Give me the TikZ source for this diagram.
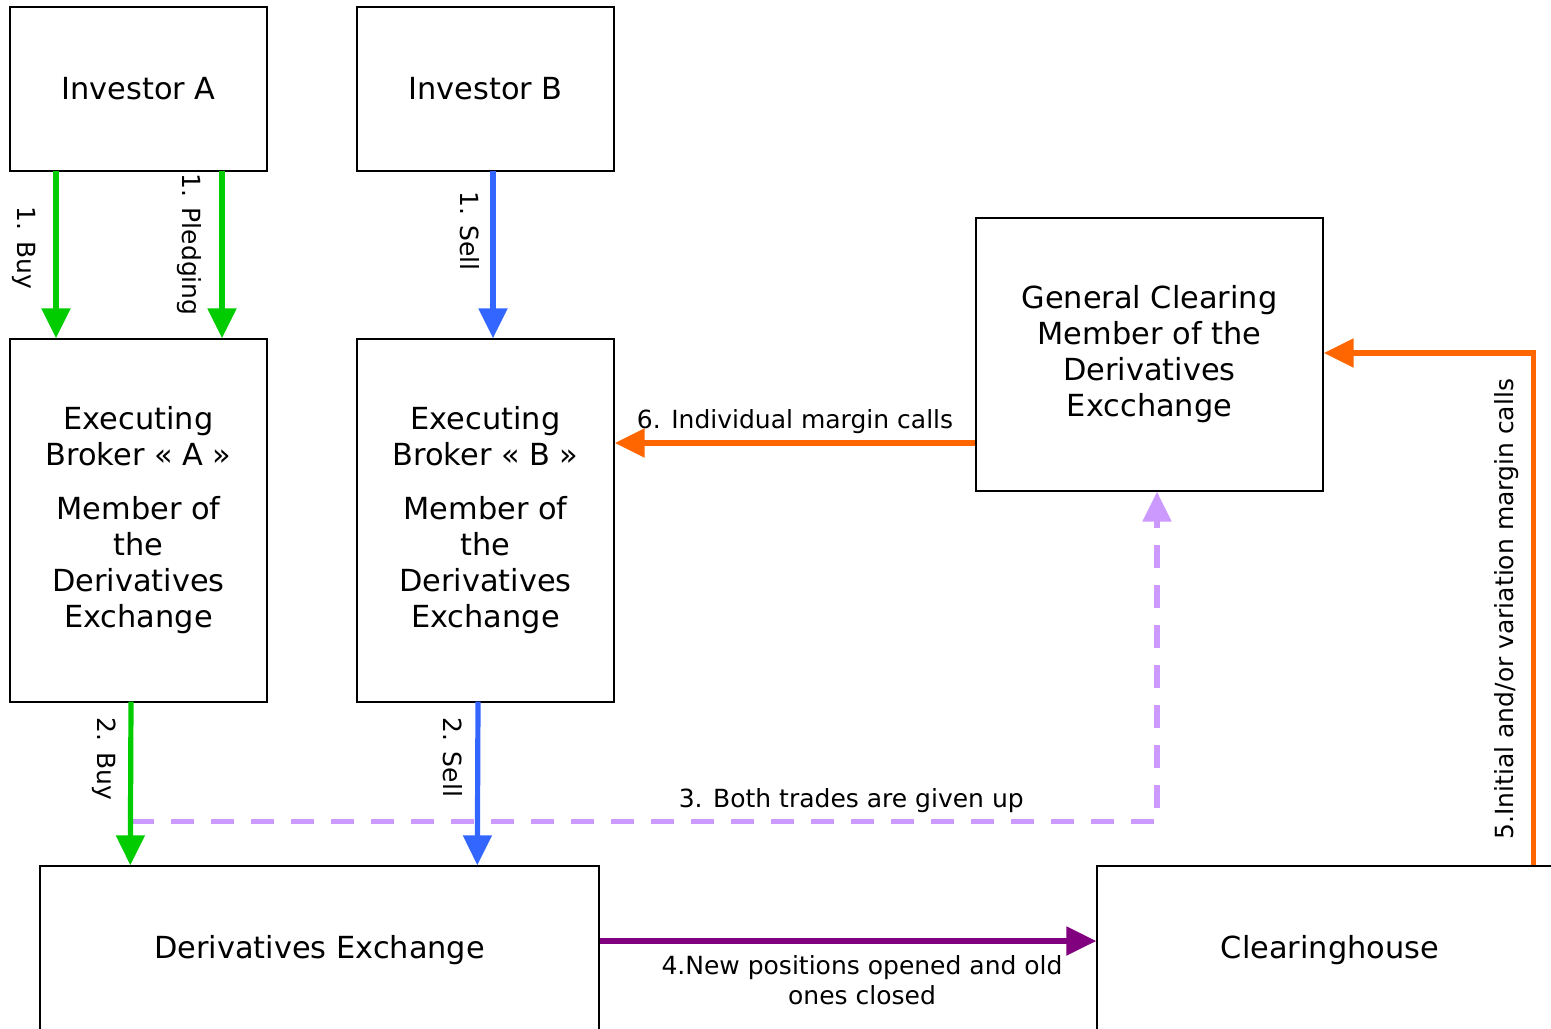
\documentclass[tikz,border=0pt]{standalone}
\usepackage{fontspec}
\setmainfont{DejaVu Sans}
\usepackage{xcolor}
\usetikzlibrary{calc,arrows.meta,positioning}

\definecolor{buygreen}{HTML}{00CC00}
\definecolor{sellblue}{HTML}{3366FF}
\definecolor{giveup}{HTML}{CC99FF}
\definecolor{posviolet}{HTML}{800080}
\definecolor{callorange}{HTML}{FF6600}

\begin{document}
\begin{tikzpicture}[
	x=0.5pt, y=-0.5pt,
	box/.style = {draw, line width=0.7pt, inner sep=0pt, align=center,
		font=\fontsize{15.2}{18}\selectfont},
	investor/.style = {box, minimum width=128.5pt, minimum height=82pt},
	broker/.style = {box, minimum width=128.5pt, minimum height=181.5pt},
	lbl/.style = {inner sep=0pt, align=center, text=black, font=\fontsize{12.5}{15}\selectfont},
	flow/.style = {line width=2.6pt, -{Triangle[length=15pt,width=14pt]}}]
	
	\useasboundingbox (0,0) rectangle (1551,1028);
	
	% boxes
	\node[investor] (invA) at (138.5,89) {Investor A};
	\node[investor] (invB) at (485.5,89) {Investor B};
	\node[broker] (exA) at (138.5,520.5) {Executing\\Broker « A »\\[9pt]Member of\\the\\Derivatives\\Exchange};
	\node[broker] (exB) at (485.5,520.5) {Executing\\Broker « B »\\[9pt]Member of\\the\\Derivatives\\Exchange};
	\node[box, minimum width=173.5pt, minimum height=136.5pt] (gcm) at (1149.5,354.5) {General Clearing\\Member of the\\Derivatives\\Excchange};
	\node[box, minimum width=279.5pt, minimum height=84pt] (dex) at (319.5,950) {Derivatives Exchange};
	\node[box, minimum width=233pt, minimum height=84pt] (ch) at (1330,950) {Clearinghouse};
	
	\coordinate (given) at ($(exA.south)+(-7.5,119)$);
	
	% give-up
	\draw[flow, giveup, dash pattern=on 11.5pt off 8.5pt] (given) -| ($(gcm.south)+(7.5,0)$)
		node[lbl, pos=0.351, anchor=south, yshift=3pt] {3. Both trades are given up};
	
	% orders
	\draw[flow, buygreen] ($(invA.south)+(-82.5,-1)$) -- ($(exA.north)+(-82.5,0)$)
		node[lbl, pos=0.46, xshift=-9pt, rotate=-90, anchor=north] {1. Buy};
	\draw[flow, buygreen] ($(invA.south)+(83.5,-1)$) -- ($(exA.north)+(83.5,0)$)
		node[lbl, pos=0.44, xshift=-9pt, rotate=-90, anchor=north] {1. Pledging};
	\draw[flow, sellblue] ($(invB.south)+(7.5,-1)$) -- ($(exB.north)+(7.5,0)$)
		node[lbl, pos=0.36, xshift=-5.5pt, rotate=-90, anchor=north] {1. Sell};
	\draw[flow, buygreen] ($(exA.south)+(-7.5,-1)$) -- ($(dex.north west)+(91,0)$)
		node[lbl, pos=0.35, xshift=-6pt, rotate=-90, anchor=north] {2. Buy};
	\draw[flow, sellblue] ($(exB.south)+(-7.5,-1)$) -- ($(dex.north west)+(438,0)$)
		node[lbl, pos=0.34, xshift=-6.5pt, rotate=-90, anchor=north] {2. Sell};
	
	% positions and margin calls
	\draw[flow, posviolet] ($(dex.east)+(0,-9)$) -- ($(ch.west)+(0,-9)$)
		node[lbl, midway, anchor=north, yshift=-6pt, xshift=7pt] {4.New positions opened and old\\ones closed};
	\draw[flow, callorange] ($(ch.north west)+(437,0)$) |- ($(gcm.east)+(0,-1.5)$)
		node[lbl, pos=0.25, xshift=-6pt, rotate=90, anchor=south] {5.Initial and/or variation margin calls};
	\draw[flow, callorange] ($(gcm.west)+(0,88.5)$) -- ($(exB.east)+(0,-77.5)$)
		node[lbl, midway, anchor=south, yshift=3.5pt] {6. Individual margin calls};
\end{tikzpicture}
\end{document}
